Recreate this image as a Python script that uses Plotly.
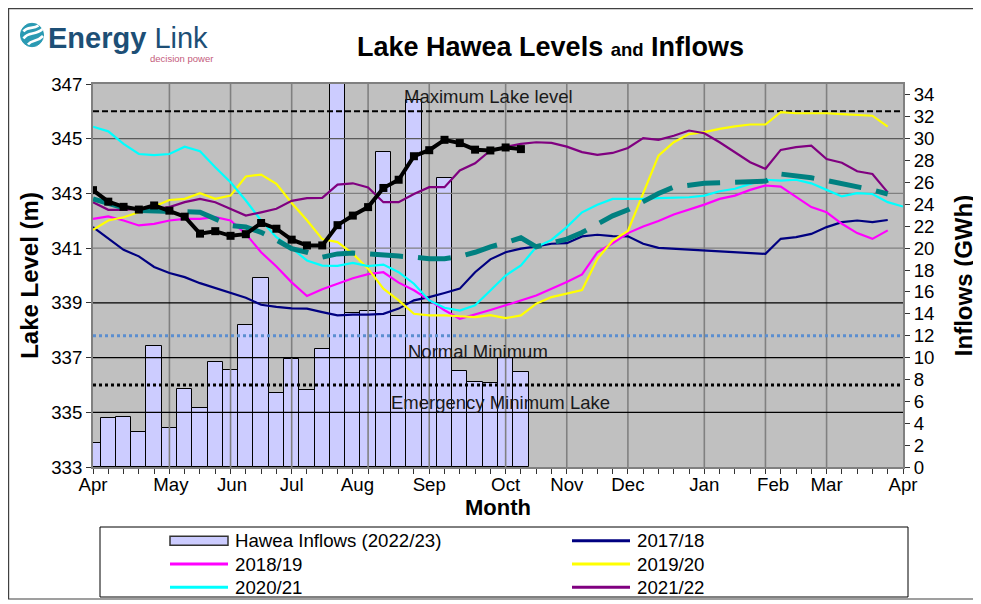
import plotly.graph_objects as go

# ---------------- data ----------------
months = ["Apr", "May", "Jun", "Jul", "Aug", "Sep", "Oct", "Nov", "Dec", "Jan", "Feb", "Mar", "Apr"]
month_label_weeks = [0, 5.1, 9.1, 13.0, 17.3, 22.0, 27.0, 31.0, 35.0, 40.0, 44.5, 48.0, 53.0]
month_grid_weeks = [5, 9, 13, 18, 22, 27, 31, 35, 40, 44, 48]

inflows_2223 = [2.2, 4.5, 4.6, 3.2, 11.1, 3.6, 7.1, 5.4, 9.6, 8.9, 13.0, 17.3, 6.8, 9.9, 7.0,
                10.8, 40.0, 14.1, 14.3, 28.8, 13.8, 33.5, 15.0, 26.4, 8.8, 7.8, 7.7, 10.0, 8.7]

lvl_1718 = [341.77, 341.34, 340.94, 340.70, 340.31, 340.09, 339.94, 339.72, 339.55, 339.36, 339.19,
            338.93, 338.85, 338.80, 338.79, 338.66, 338.54, 338.57, 338.57, 338.60, 338.79, 339.09,
            339.21, 339.36, 339.52, 340.12, 340.59, 340.85, 340.98, 341.06, 341.16, 341.18, 341.43,
            341.49, 341.44, 341.43, 341.16, 341.01, 340.98, 340.94, 340.91, 340.88, 340.85, 340.83,
            340.79, 341.34, 341.40, 341.52, 341.77, 341.95, 342.01, 341.95, 342.03]
lvl_1819 = [342.07, 342.16, 342.01, 341.83, 341.89, 342.01, 342.07, 342.07, 342.13, 342.01, 341.52,
            340.85, 340.33, 339.75, 339.25, 339.50, 339.70, 339.90, 340.05, 340.12, 339.74, 339.46,
            339.10, 338.73, 338.42, 338.57, 338.74, 338.91, 339.09, 339.27, 339.52, 339.76, 340.04,
            340.85, 341.18, 341.55, 341.79, 341.99, 342.23, 342.40, 342.59, 342.80, 342.92, 343.13,
            343.29, 343.25, 342.86, 342.50, 342.31, 341.89, 341.55, 341.34, 341.65]
lvl_1920 = [341.67, 342.01, 342.13, 342.31, 342.52, 342.76, 342.80, 343.01, 342.80, 342.92, 343.62,
            343.69, 343.35, 342.65, 342.02, 341.33, 341.22, 340.80, 340.25, 339.52, 339.09, 338.60,
            338.54, 338.54, 338.51, 338.48, 338.55, 338.44, 338.54, 338.97, 339.21, 339.33, 339.47,
            340.60, 341.28, 341.63, 342.98, 344.38, 344.87, 345.17, 345.24, 345.36, 345.45, 345.52,
            345.52, 345.97, 345.93, 345.93, 345.93, 345.90, 345.88, 345.84, 345.44]
lvl_2021 = [345.44, 345.27, 344.81, 344.44, 344.40, 344.44, 344.71, 344.54, 343.96, 343.41, 342.74,
            342.01, 341.40, 341.00, 340.55, 340.36, 340.35, 340.46, 340.34, 340.40, 340.12, 339.70,
            339.09, 338.82, 338.72, 338.91, 339.45, 340.00, 340.37, 341.04, 341.30, 341.77, 342.31,
            342.59, 342.80, 342.80, 342.80, 342.83, 342.84, 342.86, 342.92, 343.08, 343.17, 343.35,
            343.50, 343.47, 343.50, 343.37, 343.13, 342.89, 343.01, 342.98, 342.68, 342.52]
lvl_2122 = [342.68, 342.40, 342.40, 342.44, 342.44, 342.50, 342.68, 342.80, 342.68, 342.44, 342.19,
            342.31, 342.44, 342.73, 342.83, 342.84, 343.32, 343.37, 343.22, 342.68, 342.68, 342.98,
            343.23, 343.23, 343.84, 344.10, 344.57, 344.70, 344.81, 344.87, 344.85, 344.71, 344.51,
            344.41, 344.48, 344.66, 345.02, 344.96, 345.11, 345.30, 345.20, 344.87, 344.51, 344.14,
            343.90, 344.59, 344.69, 344.75, 344.26, 344.12, 343.81, 343.71, 343.04]
lvl_avg = [342.80, 342.62, 342.47, 342.38, 342.35, 342.35, 342.33, 342.31, 342.07, 341.83, 341.77,
           341.58, 341.30, 340.98, 340.85, 340.67, 340.79, 340.82, 340.79, 340.73, 340.71, 340.67,
           340.61, 340.61, 340.70, 340.85, 341.05, 341.20, 341.38, 341.05, 341.18, 341.33, 341.57,
           341.87, 342.18, 342.40, 342.70, 343.00, 343.23, 343.32, 343.37, 343.39, 343.40, 343.41,
           343.45, 343.71, 343.65, 343.57, 343.47, 343.37, 343.25, 343.13, 342.98]
lvl_2223 = [343.12, 342.70, 342.51, 342.41, 342.56, 342.37, 342.15, 341.53, 341.62, 341.45, 341.51,
            341.92, 341.71, 341.31, 341.10, 341.10, 341.84, 342.19, 342.50, 343.20, 343.50, 344.36,
            344.58, 344.96, 344.84, 344.60, 344.57, 344.68, 344.62]

max_level = 346.0
normal_min = 337.8
emergency_min = 336.0

series_names = ["2017/18", "2018/19", "2019/20", "2020/21", "2021/22"]
series_values = [lvl_1718, lvl_1819, lvl_1920, lvl_2021, lvl_2122]
series_colors = ["#000080", "#FF00FF", "#FFFF00", "#00FFFF", "#800080"]

# ---------------- layout geometry ----------------
OFF = 8                      # page body margin
W, H = 981 - OFF, 604 - OFF
SX0, SX1, SY0, SY1 = 93, 903, 84, 467   # plot box in window pixels
PW, PH = SX1 - SX0, SY1 - SY0
ML, MT = SX0 - OFF, SY0 - OFF
MR, MB = W - ML - PW, H - MT - PH
FONT = "Liberation Sans, Arial, sans-serif"


def fx(px):
    return (px - SX0) / PW


def fy(py):
    return (SY1 - py) / PH


def weeks(vals):
    return list(range(len(vals)))


fig = go.Figure()

# inflow bars (right axis, lower subplot layer)
fig.add_trace(go.Bar(
    x=weeks(inflows_2223), y=inflows_2223, name="Hawea Inflows (2022/23)",
    marker=dict(color="#CCCCFF", line=dict(color="#000000", width=1)),
    width=1.0, yaxis="y", showlegend=False,
))

x_end = 53
# vertical month gridlines (above the bars, below the lines)
gx, gy = [], []
for g in month_grid_weeks:
    gx += [g, g, None]
    gy += [333, 347, None]
fig.add_trace(go.Scatter(x=gx, y=gy, mode="lines", yaxis="y2", hoverinfo="skip",
                         line=dict(color="#808080", width=1.6), showlegend=False))
# horizontal gridlines
for levels, col in [([341, 343], "#808080"), ([345], "#5a5a5a"), ([335, 337, 339], "#000000")]:
    hx, hy = [], []
    for lv in levels:
        hx += [0, x_end, None]
        hy += [lv, lv, None]
    fig.add_trace(go.Scatter(x=hx, y=hy, mode="lines", yaxis="y2", hoverinfo="skip",
                             line=dict(color=col, width=1.3), showlegend=False))

# reference levels
fig.add_trace(go.Scatter(x=[0, x_end], y=[max_level, max_level], mode="lines", yaxis="y2",
                         line=dict(color="#000000", width=2, dash="6px,3px"), showlegend=False))
fig.add_trace(go.Scatter(x=[0, x_end], y=[normal_min, normal_min], mode="lines", yaxis="y2",
                         line=dict(color="#5B8ED0", width=3, dash="3px,3px"), showlegend=False))
fig.add_trace(go.Scatter(x=[0, x_end], y=[emergency_min, emergency_min], mode="lines", yaxis="y2",
                         line=dict(color="#000000", width=3, dash="3px,3px"), showlegend=False))

# historical years
for name, vals, col in zip(series_names, series_values, series_colors):
    fig.add_trace(go.Scatter(x=weeks(vals), y=vals, mode="lines", name=name, yaxis="y2",
                             line=dict(color=col, width=2.2), showlegend=False))

# average (thick dashed teal)
fig.add_trace(go.Scatter(x=weeks(lvl_avg), y=lvl_avg, mode="lines", yaxis="y2",
                         line=dict(color="#008080", width=5, dash="33px,15px"), showlegend=False))

# current year
fig.add_trace(go.Scatter(x=weeks(lvl_2223), y=lvl_2223, mode="lines+markers", yaxis="y2",
                         name="2022/23",
                         line=dict(color="#000000", width=4),
                         marker=dict(symbol="square", size=8, color="#000000"), showlegend=False))

shapes = []
annotations = []

# outer chart border
shapes.append(dict(type="rect", xref="paper", yref="paper", x0=fx(8.6), x1=fx(976), y0=fy(8.6), y1=fy(599),
                   line=dict(color="#404040", width=1.2), fillcolor="rgba(0,0,0,0)", layer="below"))

# logo
shapes.append(dict(type="circle", xref="paper", yref="paper", x0=fx(20.5), x1=fx(43.5), y0=fy(46.7), y1=fy(23.3),
                   fillcolor="#2A9AB3", line=dict(color="#2A9AB3", width=1)))


def pth(pts):
    s = "M %.5f,%.5f C " % (fx(pts[0][0]), fy(pts[0][1]))
    s += " ".join("%.5f,%.5f" % (fx(a), fy(b)) for a, b in pts[1:])
    return s


for crv in [[(23.5, 31.5), (27, 26), (33, 29.5), (38.5, 25.5)],
            [(23.5, 38.5), (28.5, 31), (35, 36), (42.5, 29)],
            [(28, 44.5), (32, 39), (37, 42.5), (43, 36)]]:
    shapes.append(dict(type="path", xref="paper", yref="paper", path=pth(crv),
                       line=dict(color="white", width=2.6)))

annotations.append(dict(xref="paper", yref="paper", x=fx(46), y=fy(37.5), xanchor="left", yanchor="middle",
                        text="<b>Energy</b> Link", showarrow=False,
                        font=dict(family=FONT, size=29, color="#1D4F76")))
annotations.append(dict(xref="paper", yref="paper", x=fx(181), y=fy(58.5), xanchor="center", yanchor="middle",
                        text="decision power", showarrow=False,
                        font=dict(family=FONT, size=9.5, color="#C45C7C")))

# title
annotations.append(dict(xref="paper", yref="paper", x=fx(550), y=fy(47), xanchor="center", yanchor="middle",
                        text="<b>Lake Hawea Levels <span style='font-size:18.5px'>and</span> Inflows</b>",
                        showarrow=False, font=dict(family=FONT, size=27, color="#000000")))

# reference level labels
for txt, xc, yc in [("Maximum Lake level", 488, 97), ("Normal Minimum", 478, 351),
                    ("Emergency Minimum Lake", 501, 402)]:
    annotations.append(dict(xref="paper", yref="paper", x=fx(xc), y=fy(yc), xanchor="center", yanchor="middle",
                            text=txt, showarrow=False, font=dict(family=FONT, size=18.5, color="#1a1a1a")))

# legend (boxed, two columns)
shapes.append(dict(type="rect", xref="paper", yref="paper", x0=fx(100), x1=fx(908), y0=fy(597), y1=fy(527),
                   line=dict(color="#000000", width=1), fillcolor="white"))
legend_items = [("Hawea Inflows (2022/23)", None)] + list(zip(series_names, series_colors))
row_y = [540.7, 564.0, 587.3]
col_x = [170, 572]
for i, (name, col) in enumerate(legend_items):
    r, c = divmod(i, 2)
    x0 = col_x[c]
    yy = row_y[r]
    if col is None:
        shapes.append(dict(type="rect", xref="paper", yref="paper", x0=fx(x0), x1=fx(x0 + 58),
                           y0=fy(yy - 4.5), y1=fy(yy + 4.5), fillcolor="#CCCCFF",
                           line=dict(color="#333333", width=1.5)))
    else:
        shapes.append(dict(type="line", xref="paper", yref="paper", x0=fx(x0), x1=fx(x0 + 58),
                           y0=fy(yy), y1=fy(yy), line=dict(color=col, width=3)))
    annotations.append(dict(xref="paper", yref="paper", x=fx(x0 + 63), y=fy(yy), xanchor="left", yanchor="middle",
                            text=name, showarrow=False, font=dict(family=FONT, size=18.67, color="#000000")))

axis_font = dict(family=FONT, size=18.67, color="#000000")

fig.update_layout(
    width=W, height=H,
    margin=dict(l=ML, r=MR, t=MT, b=MB, autoexpand=False),
    paper_bgcolor="white", plot_bgcolor="#C0C0C0",
    bargap=0, showlegend=False,
    font=dict(family=FONT, color="#000000"),
    shapes=shapes, annotations=annotations,
    xaxis=dict(range=[0, x_end], tickvals=month_label_weeks, ticktext=months, ticks="",
               tickfont=axis_font, showgrid=False, zeroline=False, automargin=False,
               showline=True, linecolor="#808080", linewidth=2, mirror=True,
               minor=dict(tick0=0, dtick=1, ticks="outside", ticklen=5, tickcolor="#333333", showgrid=False),
               title=dict(text="<b>Month</b>", font=dict(family=FONT, size=22), standoff=2)),
    yaxis=dict(range=[0, 35], side="right", tickvals=list(range(0, 35, 2)), ticks="outside", ticklen=5,
               tickcolor="#333333", tickfont=axis_font, showgrid=False, zeroline=False, automargin=False,
               showline=True, linecolor="#808080", linewidth=2,
               title=dict(text="<b>Inflows (GWh)</b>", font=dict(family=FONT, size=24), standoff=22)),
    yaxis2=dict(range=[333, 347], overlaying="y", side="left", anchor="x", dtick=2, tick0=333,
                ticks="outside", ticklen=5, tickcolor="#333333", tickfont=axis_font, automargin=False,
                showgrid=False, zeroline=False, showline=True, linecolor="#808080", linewidth=2,
                title=dict(text="<b>Lake Level (m)</b>", font=dict(family=FONT, size=24), standoff=6)),
)

fig.write_html("out.html")
